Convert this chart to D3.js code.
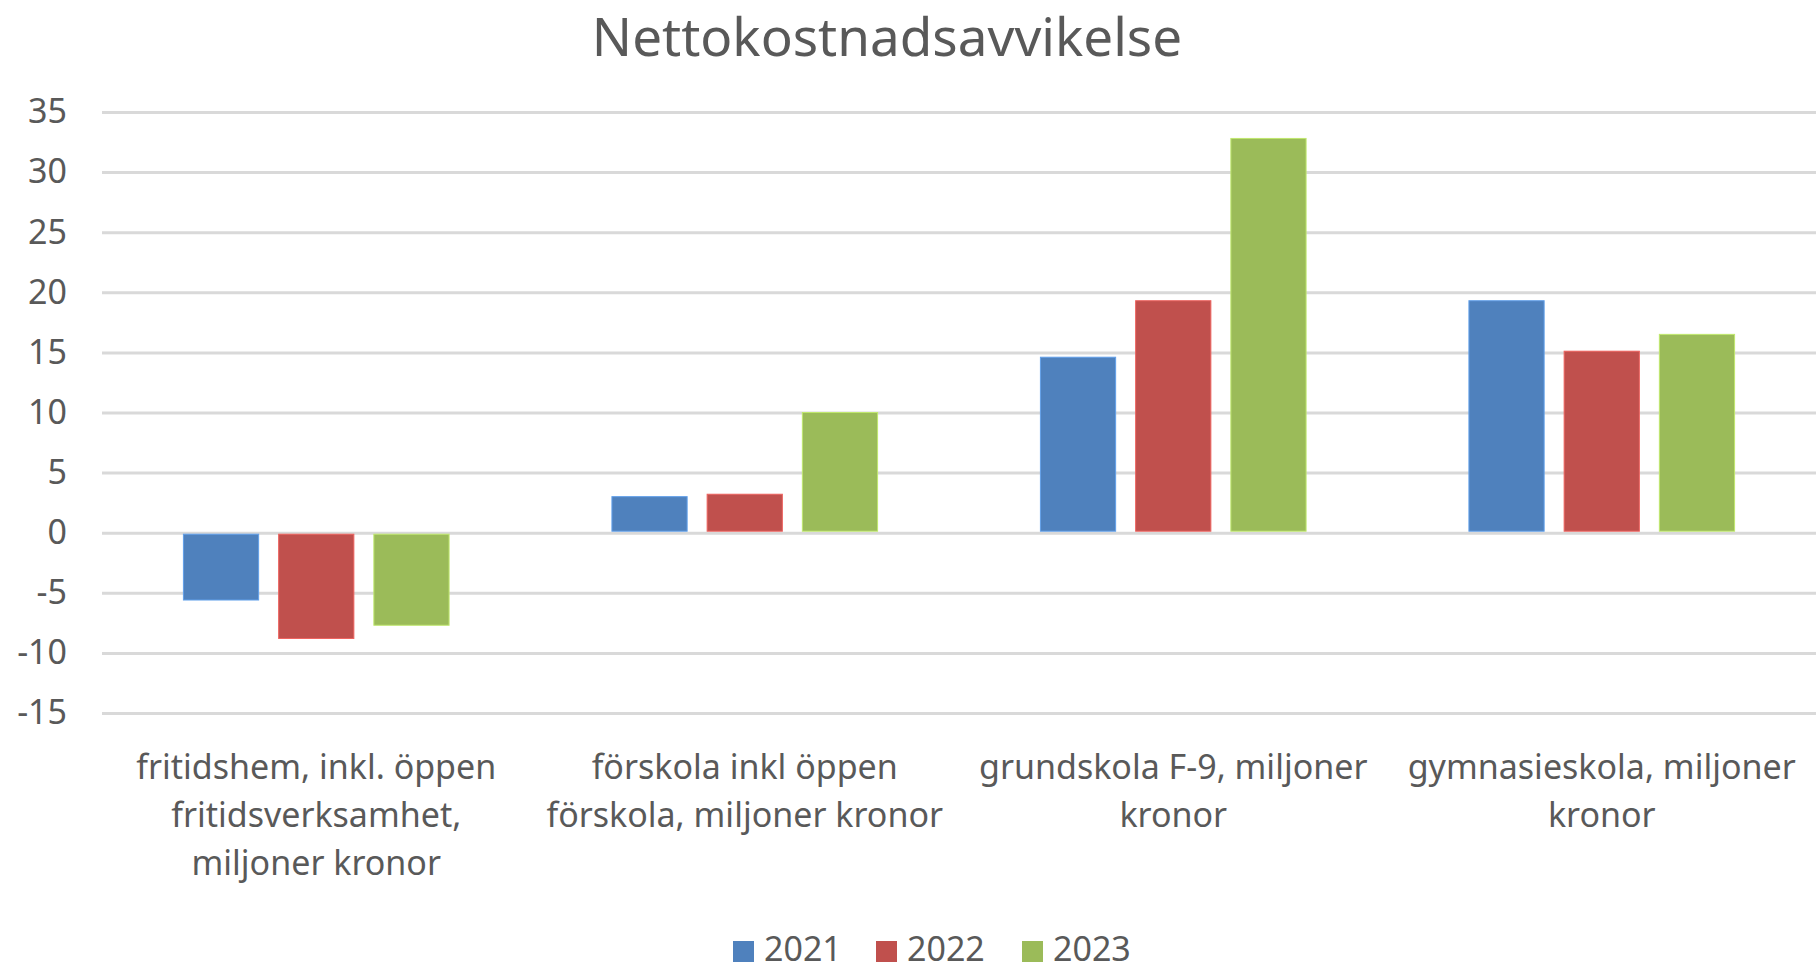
<!DOCTYPE html>
<html>
<head>
<meta charset="utf-8">
<script src="https://cdn.jsdelivr.net/npm/d3@7"></script>
<style>
	html, body { margin: 0; padding: 0; background: #fff; overflow: hidden; }
	svg { display: block; font-family: "Noto Sans", "Open Sans", sans-serif; }
</style>
</head>
<body>
<svg id="chart" width="1816" height="967"></svg>
<script>
// category labels, with the line breaks used in the original
var categories = [
	"fritidshem, inkl. öppen\nfritidsverksamhet,\nmiljoner kronor",
	"förskola inkl öppen\nförskola, miljoner kronor",
	"grundskola F-9, miljoner\nkronor",
	"gymnasieskola, miljoner\nkronor"
];
var years = ["2021", "2022", "2023"];
var values2021 = [-5.6, 3.0, 14.6, 19.3];
var values2022 = [-8.8, 3.2, 19.3, 15.1];
var values2023 = [-7.7, 10.0, 32.8, 16.5];
var yTicks = [-15, -10, -5, 0, 5, 10, 15, 20, 25, 30, 35];
var colors = ["#4f81bd", "#c0504d", "#9bbb59"];

var series = [values2021, values2022, values2023];
var width = 1816, height = 967;
var margin = { left: 102, right: 0, top: 112, bottom: 254 };
var textColor = "#595959";

var svg = d3.select("#chart");

var x0 = d3.scaleBand()
	.domain(categories)
	.range([margin.left, width - margin.right])
	.paddingInner(0.38)
	.paddingOuter(0.19);

var x1 = d3.scaleBand()
	.domain(years)
	.range([0, x0.bandwidth()])
	.paddingInner(0.21);

var y = d3.scaleLinear()
	.domain([-15, 35])
	.range([height - margin.bottom, margin.top]);

// title
svg.append("text")
	.attr("x", 887)
	.attr("y", 56)
	.attr("text-anchor", "middle")
	.attr("fill", textColor)
	.attr("font-size", 53)
	.text("Nettokostnadsavvikelse");

// gridlines + y labels
var yAxis = svg.append("g")
	.attr("transform", "translate(" + margin.left + ",0)")
	.call(d3.axisLeft(y)
		.tickValues(yTicks)
		.tickSize(-(width - margin.left - margin.right))
		.tickPadding(35)
		.tickFormat(function (d) { return String(d); }));
yAxis.select(".domain").remove();
yAxis.selectAll(".tick line")
	.attr("stroke", "#d9d9d9")
	.attr("stroke-width", 3);
yAxis.selectAll(".tick text")
	.attr("fill", textColor)
	.attr("font-size", 34)
	.attr("font-family", "\"Noto Sans\", sans-serif");

// bars
var groups = svg.append("g")
	.selectAll("g")
	.data(categories)
	.enter().append("g")
	.attr("transform", function (d) { return "translate(" + x0(d) + ",0)"; });

groups.selectAll("rect")
	.data(function (d, i) {
		return years.map(function (yr, j) { return { year: yr, value: series[j][i], color: colors[j] }; });
	})
	.enter().append("rect")
	.attr("x", function (d) { return x1(d.year); })
	.attr("width", x1.bandwidth())
	.attr("y", function (d) { return d.value >= 0 ? y(d.value) : y(0) + 1.5; })
	.attr("height", function (d) { return Math.abs(y(d.value) - y(0)) - 1.5; })
	.attr("fill", function (d) { return d.color; })
	.attr("stroke", function (d) { return d3.color(d.color).brighter(0.6); })
	.attr("stroke-width", 1);

// category labels
var lineHeight = 48;
svg.append("g")
	.selectAll("text")
	.data(categories)
	.enter().append("text")
	.attr("x", function (d) { return x0(d) + x0.bandwidth() / 2; })
	.attr("y", 779)
	.attr("text-anchor", "middle")
	.attr("fill", textColor)
	.attr("font-size", 34)
	.each(function (d) {
		var text = d3.select(this), cx = text.attr("x");
		d.split("\n").forEach(function (line, i) {
			text.append("tspan")
				.attr("x", cx)
				.attr("dy", i ? lineHeight : 0)
				.text(line);
		});
	});

// legend
var legendX = [733, 876, 1022];
var legend = svg.append("g")
	.selectAll("g")
	.data(years)
	.enter().append("g")
	.attr("transform", function (d, i) { return "translate(" + legendX[i] + ",941)"; });
legend.append("rect")
	.attr("width", 21)
	.attr("height", 21)
	.attr("fill", function (d, i) { return colors[i]; });
legend.append("text")
	.attr("x", 31)
	.attr("y", 20)
	.attr("fill", textColor)
	.attr("font-size", 34)
	.text(function (d) { return d; });
</script>
</body>
</html>
